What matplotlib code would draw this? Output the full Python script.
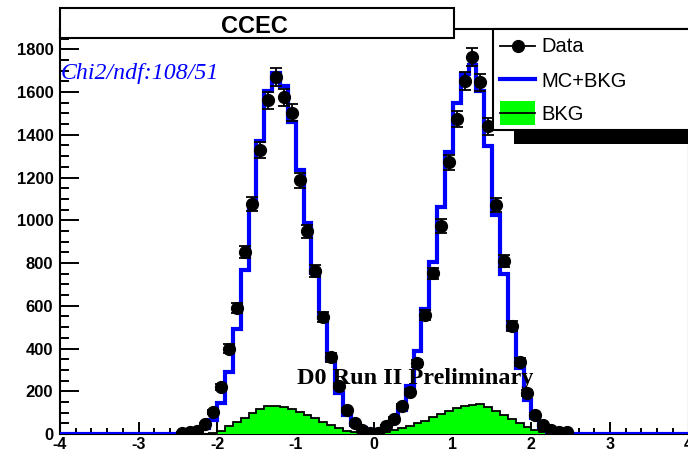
import numpy as np
import matplotlib
matplotlib.use("Agg")
import matplotlib.pyplot as plt
from matplotlib.patches import Rectangle
from matplotlib.lines import Line2D
from matplotlib.ticker import MultipleLocator

W, H, DPI = 688, 451, 100

# Binning: 80 bins of width 0.1 over [-4, 4]; the populated bins span [-2.5, 2.5]
axis_lo, axis_hi, bin_width = -4.0, 4.0, 0.1
populated_lo = -2.5

# Observed events per bin (bin centres -2.45 ... 2.45)
data_counts = [6, 8, 12, 45, 104, 220, 400, 590, 852, 1078,
               1330, 1561, 1670, 1576, 1503, 1187, 949, 763, 548, 358,
               224, 112, 50, 19, 5, 6, 38, 70, 131, 195,
               330, 556, 751, 973, 1272, 1475, 1651, 1763, 1646, 1439,
               1070, 810, 505, 338, 190, 89, 42, 18, 10, 8]

# Simulation + background prediction per bin
mc_plus_bkg = [2, 5, 11, 27, 65, 147, 291, 490, 766, 1077,
               1370, 1604, 1688, 1629, 1459, 1234, 989, 751, 541, 346,
               190, 89, 42, 26, 18, 18, 32, 60, 110, 225,
               390, 587, 805, 1062, 1319, 1548, 1685, 1728, 1603, 1346,
               1023, 748, 493, 307, 159, 73, 34, 11, 5, 2]

# Background-only component per bin
bkg = [0, 0, 1, 2, 5, 14, 36, 54, 76, 99,
       118, 130, 130, 126, 118, 104, 89, 73, 58, 42,
       27, 16, 9, 5, 3, 3, 9, 18, 28, 38,
       50, 63, 78, 93, 108, 121, 130, 136, 140, 124,
       108, 91, 69, 50, 33, 20, 11, 5, 2, 1]

x_ticks = [-4, -3, -2, -1, 0, 1, 2, 3, 4]
y_ticks = [0, 200, 400, 600, 800, 1000, 1200, 1400, 1600, 1800]
y_max = 1895

title_text = "CCEC"
chi2_text = "Chi2/ndf:108/51"
watermark = "D0 Run II Preliminary"
legend_labels = ["Data", "MC+BKG", "BKG"]

BLUE = "#0000ff"
GREEN = "#00ff00"

plt.rcParams["font.family"] = ["Liberation Sans", "DejaVu Sans"]

n_bins = int(round((axis_hi - axis_lo) / bin_width))
edges = np.round(np.linspace(axis_lo, axis_hi, n_bins + 1), 3)
start = int(round((populated_lo - axis_lo) / bin_width))


def full_hist(values):
    out = np.zeros(n_bins)
    out[start:start + len(values)] = values
    return out


fig = plt.figure(figsize=(W / DPI, H / DPI), dpi=DPI)
fig.patch.set_facecolor("white")


def fx(px):
    return px / W


def fy(py):
    return 1.0 - py / H


ax = fig.add_axes([fx(60), fy(434), 628.5 / W, (434 - 29) / H])

# background histogram: green fill with black outline
bkg_full = full_hist(bkg)
ax.stairs(bkg_full, edges, fill=True, color=GREEN, zorder=2)
ax.stairs(bkg_full, edges, color="black", linewidth=1.3, zorder=3)

# MC + background prediction
ax.stairs(full_hist(mc_plus_bkg), edges, color=BLUE, linewidth=3.0, zorder=4)

# data points with Poisson errors
centres = edges[start:start + len(data_counts)] + bin_width / 2
counts = np.array(data_counts, dtype=float)
ax.errorbar(centres, counts, yerr=np.sqrt(counts), fmt="o", color="black",
            markersize=8.5, elinewidth=1.3, capsize=4.5, capthick=1.3, zorder=5)

ax.set_xlim(axis_lo, axis_hi)
ax.set_ylim(0, y_max)
ax.set_xticks(x_ticks, labels=[str(v) for v in x_ticks],
              fontsize=11.5, fontweight="bold")
ax.set_yticks(y_ticks, labels=[str(v) for v in y_ticks],
              fontsize=12, fontweight="bold")
ax.xaxis.set_minor_locator(MultipleLocator(0.2))
ax.yaxis.set_minor_locator(MultipleLocator(50))
ax.tick_params(axis="both", which="both", direction="in", width=1.4, colors="black")
ax.tick_params(axis="x", which="major", length=8.6, pad=2.0)
ax.tick_params(axis="x", which="minor", length=4.3)
ax.tick_params(axis="y", which="major", length=13.7, pad=4.8)
ax.tick_params(axis="y", which="minor", length=6.5)
for s in ax.spines.values():
    s.set_linewidth(1.5)
    s.set_zorder(1)

# fit quality and preliminary label
ax.text(fx(61), fy(79), chi2_text, transform=fig.transFigure, ha="left",
        va="baseline", color=BLUE, fontsize=17.2, style="italic",
        family=["Liberation Serif", "DejaVu Serif"], zorder=8)
ax.text(fx(297), fy(384), watermark, transform=fig.transFigure, ha="left",
        va="baseline", color="black", fontsize=17.5, fontweight="bold",
        family=["Liberation Serif", "DejaVu Serif"], zorder=8)

# title box
fig.add_artist(Rectangle((fx(60), fy(38)), 394 / W, 30 / H,
                         transform=fig.transFigure, facecolor="white",
                         edgecolor="black", linewidth=1.5, zorder=10))
fig.text(fx(254), fy(33), title_text, ha="center", va="baseline",
         fontsize=17, fontweight="bold", zorder=11)

# legend with shadow
fig.add_artist(Rectangle((fx(514), fy(144)), (700 - 514) / W, 14 / H,
                         transform=fig.transFigure, facecolor="black",
                         edgecolor="none", zorder=10))
fig.add_artist(Rectangle((fx(493), fy(130)), (720 - 493) / W, 101 / H,
                         transform=fig.transFigure, facecolor="white",
                         edgecolor="black", linewidth=1.5, zorder=11))

sym_x0, sym_x1 = 500, 535
row_y = [45.7, 79.3, 113.3]
base_y = [51.7, 86.7, 120.0]

fig.add_artist(Line2D([fx(sym_x0), fx(sym_x1)], [fy(row_y[0])] * 2,
                      transform=fig.transFigure, color="black", linewidth=1.3,
                      zorder=12))
fig.add_artist(Line2D([fx((sym_x0 + sym_x1) / 2)], [fy(row_y[0])],
                      transform=fig.transFigure, color="black", marker="o",
                      markersize=8.5, linestyle="none", zorder=12))
fig.add_artist(Line2D([fx(sym_x0), fx(sym_x1)], [fy(row_y[1])] * 2,
                      transform=fig.transFigure, color=BLUE, linewidth=3.0,
                      zorder=12))
fig.add_artist(Rectangle((fx(sym_x0), fy(125)), (sym_x1 - sym_x0) / W, 24 / H,
                         transform=fig.transFigure, facecolor=GREEN,
                         edgecolor="none", zorder=12))
fig.add_artist(Line2D([fx(sym_x0), fx(sym_x1)], [fy(row_y[2])] * 2,
                      transform=fig.transFigure, color="black", linewidth=1.3,
                      zorder=13))
for lab, by in zip(legend_labels, base_y):
    fig.text(fx(541), fy(by), lab, ha="left", va="baseline", fontsize=14.5,
             zorder=13)

fig.savefig("out.png", dpi=DPI, facecolor="white")
